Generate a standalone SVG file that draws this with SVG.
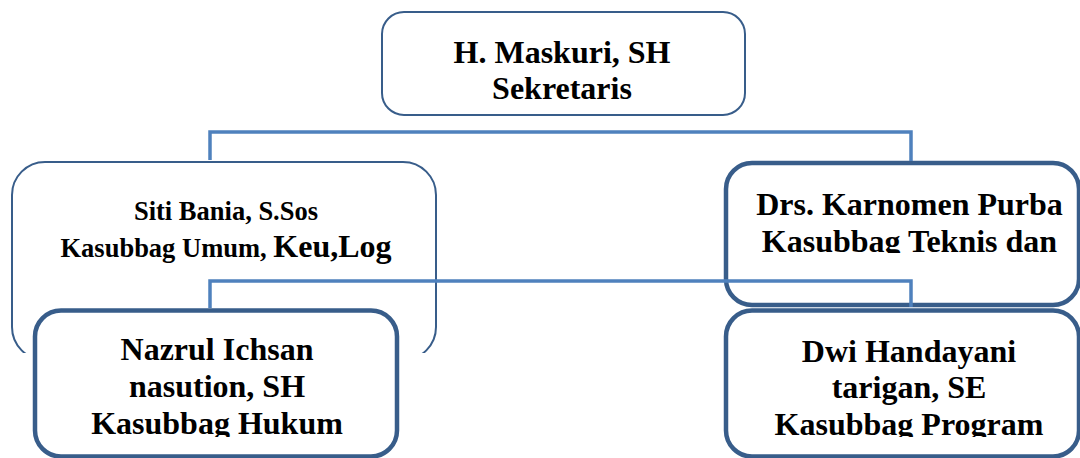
<svg xmlns="http://www.w3.org/2000/svg" width="1080" height="458" viewBox="0 0 1080 458">
  <style>
    .box { fill: #ffffff; stroke: #385d8a; }
    .thin { stroke-width: 2; }
    .thick { stroke-width: 4.5; }
    .open { fill: none; }
    .link { fill: none; stroke: #4f81bd; stroke-width: 3.5; stroke-linejoin: miter; }
    .lbl { font-family: "Liberation Serif", "Times New Roman", serif; font-weight: bold; fill: #000000; text-anchor: middle; }
    .big { font-size: 32px; }
    .small { font-size: 26.5px; }
  </style>
  <defs>
    <clipPath id="cutSiti"><rect x="0" y="0" width="1080" height="353"/></clipPath>
    <clipPath id="cutKarnomen"><rect x="725" y="163" width="355" height="90"/></clipPath>
    <clipPath id="cutLower"><rect x="0" y="310" width="1080" height="127"/></clipPath>
  </defs>

  <!-- top: secretary -->
  <g id="node-maskuri">
    <rect class="box thin" x="382" y="12" width="363" height="103" rx="22" ry="22"/>
    <text class="lbl big" x="562" y="63">H. Maskuri, SH</text>
    <text class="lbl big" x="562" y="98.5">Sekretaris</text>
  </g>

  <!-- second row -->
  <g id="node-siti">
    <rect class="box thin open" x="12" y="162" width="424" height="198" rx="33" ry="33" clip-path="url(#cutSiti)"/>
    <text class="lbl small" x="226" y="220">Siti Bania, S.Sos</text>
    <text class="lbl small" x="226" y="257">Kasubbag Umum, <tspan class="big">Keu,Log</tspan></text>
  </g>

  <g id="node-karnomen">
    <rect class="box thick open" x="726" y="163" width="353" height="142" rx="26" ry="26"/>
    <g clip-path="url(#cutKarnomen)">
      <text class="lbl big" x="909.5" y="215">Drs. Karnomen Purba</text>
      <text class="lbl big" x="909.5" y="251.5">Kasubbag Teknis dan</text>
    </g>
  </g>

  <!-- connectors -->
  <g id="connectors">
    <path class="link" d="M210,160 V132 H911 V161"/>
    <path class="link" d="M210,308 V281 H911 V307"/>
  </g>

  <!-- third row -->
  <g id="node-nazrul">
    <rect class="box thick" x="35" y="310.5" width="362" height="146" rx="26" ry="26"/>
    <g clip-path="url(#cutLower)">
      <text class="lbl big" x="217" y="360">Nazrul Ichsan</text>
      <text class="lbl big" x="217" y="397">nasution, SH</text>
      <text class="lbl big" x="217" y="434">Kasubbag Hukum</text>
    </g>
  </g>

  <g id="node-dwi">
    <rect class="box thick" x="726" y="310.5" width="353" height="146" rx="26" ry="26"/>
    <g clip-path="url(#cutLower)">
      <text class="lbl big" x="909" y="362">Dwi Handayani</text>
      <text class="lbl big" x="909" y="398">tarigan, SE</text>
      <text class="lbl big" x="909" y="435">Kasubbag Program</text>
    </g>
  </g>
</svg>
